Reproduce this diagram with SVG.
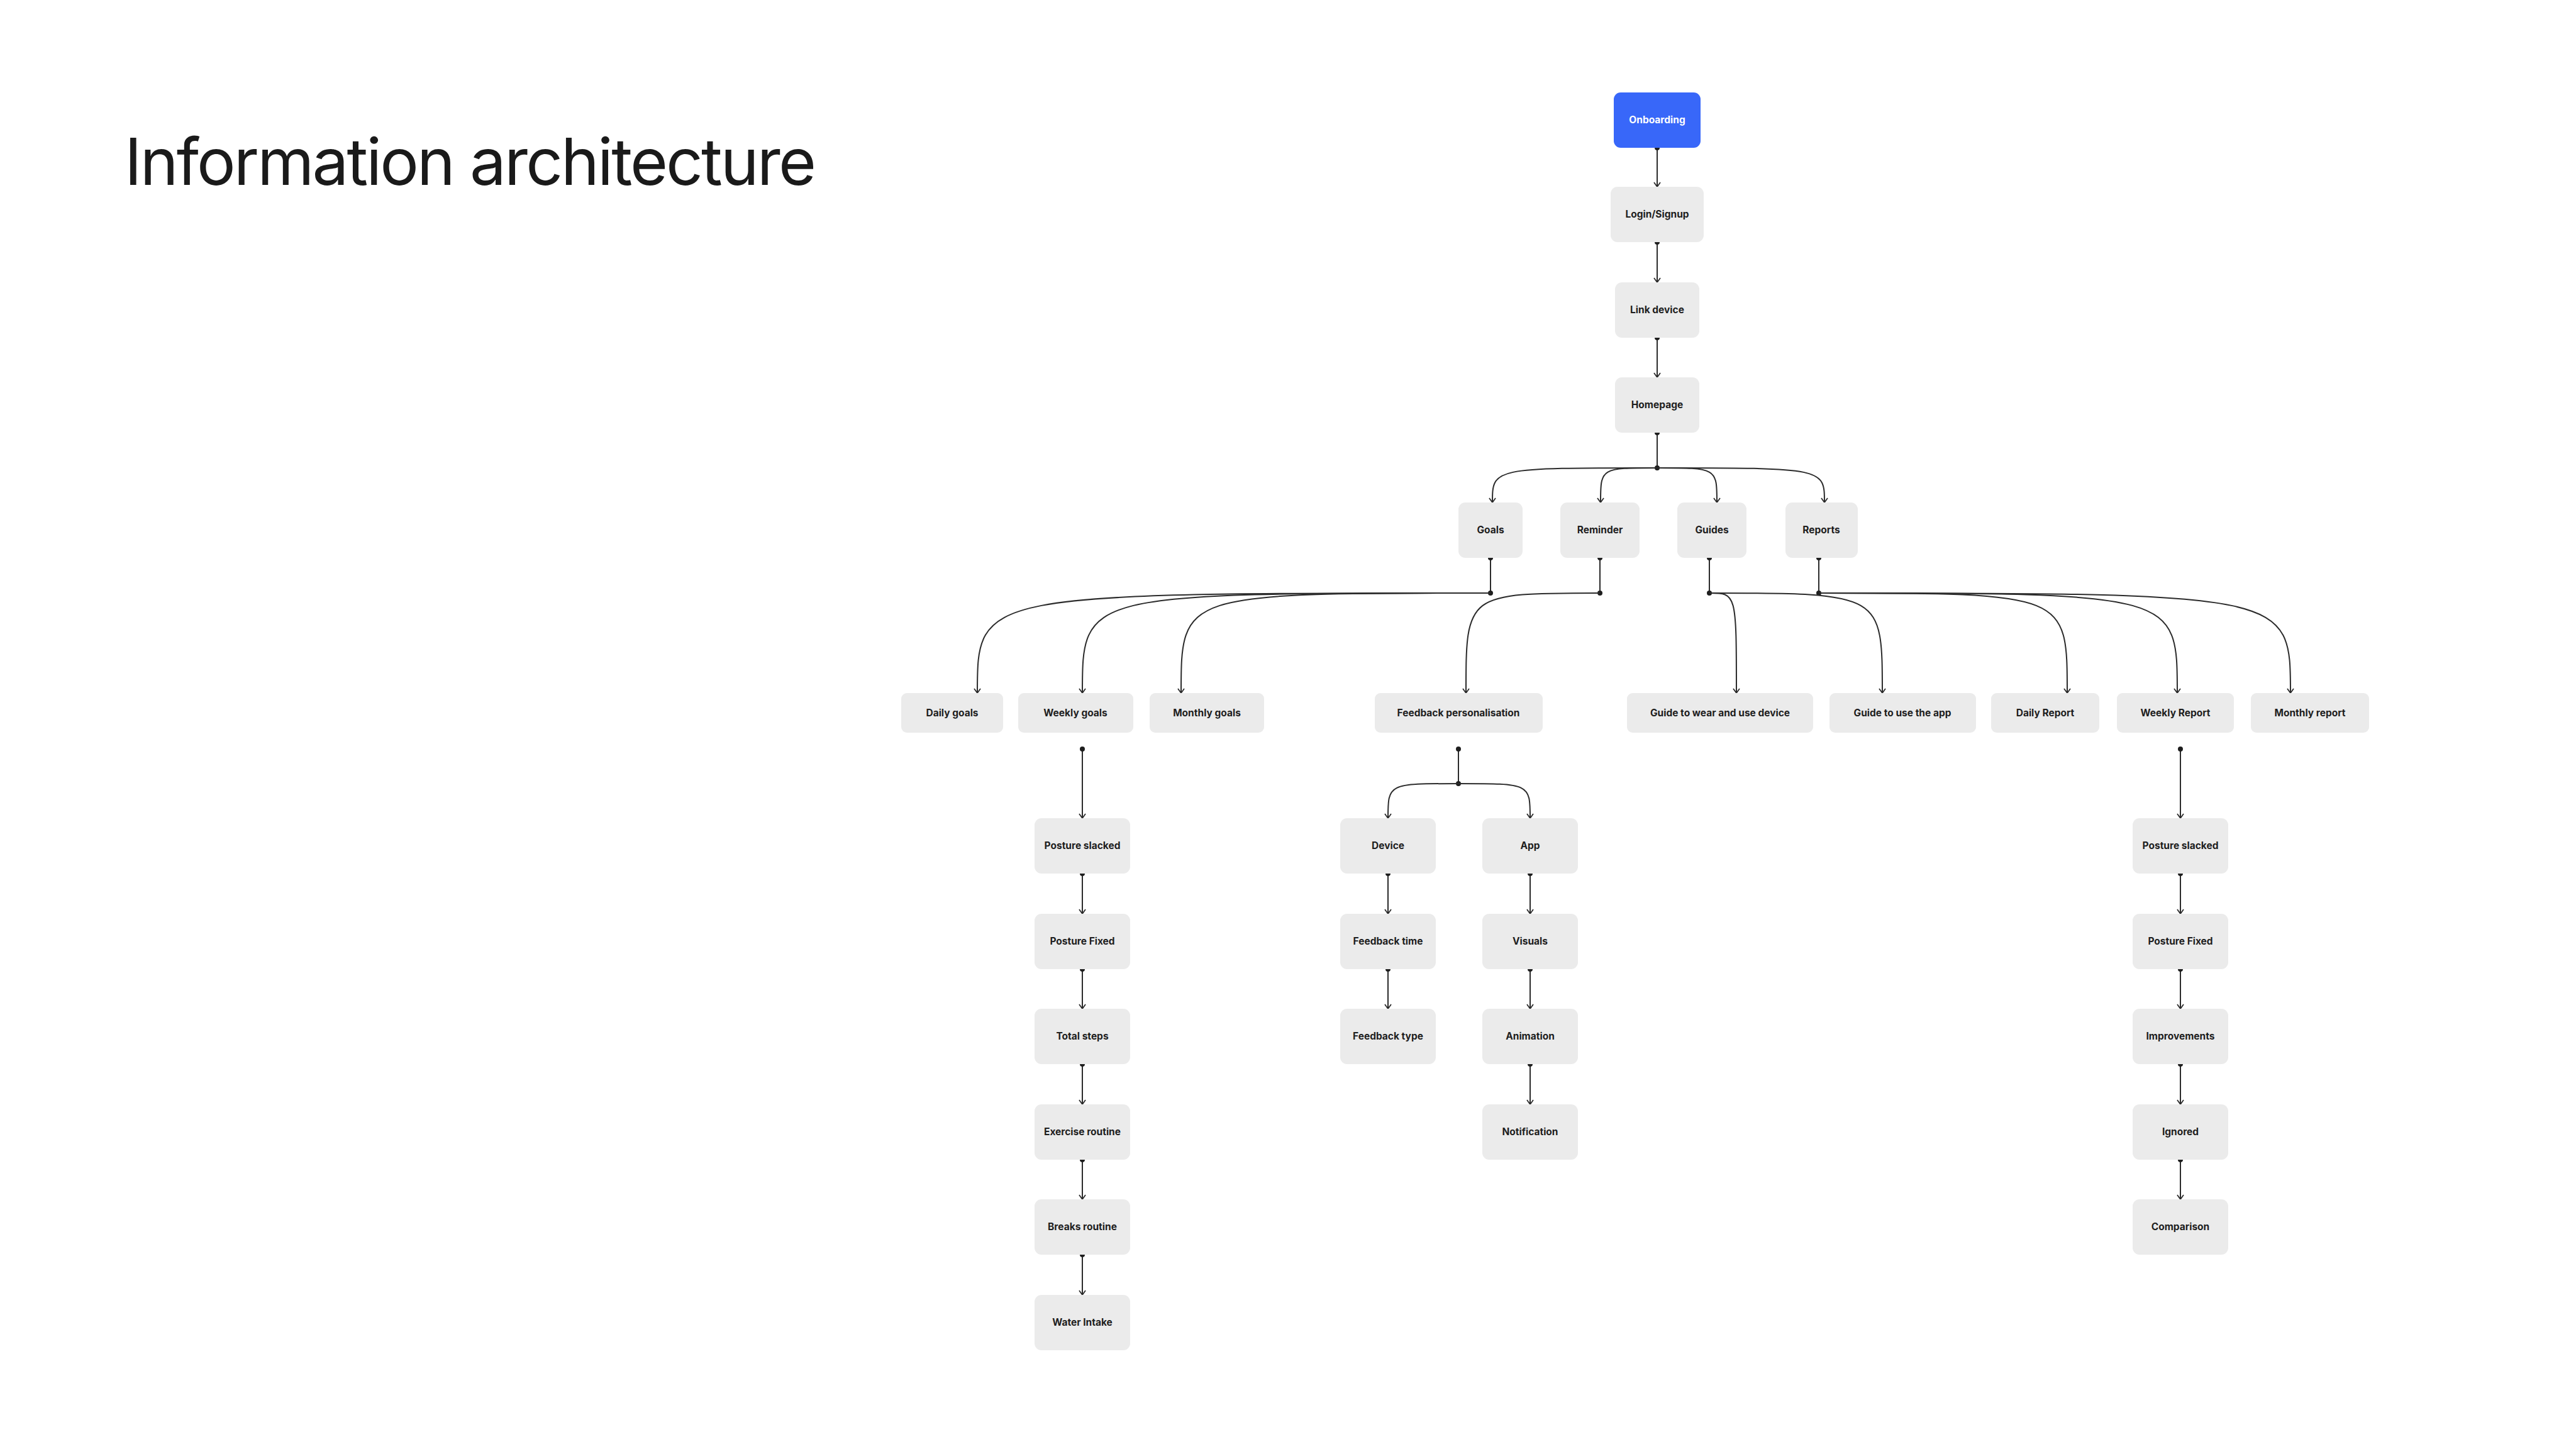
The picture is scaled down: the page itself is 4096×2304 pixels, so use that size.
<svg xmlns="http://www.w3.org/2000/svg" width="4096" height="2304" viewBox="0 0 4096 2304">
<style>
.bg{fill:#ffffff}
.node rect{fill:#ebebeb}
.node text{font-family:Inter,"Liberation Sans",sans-serif;font-weight:700;font-size:15.5px;fill:#1e1e1e;text-anchor:middle}
#onboarding rect{fill:#3867f9}
#onboarding text{fill:#ffffff}
.title{font-family:Inter,"Liberation Sans",sans-serif;font-weight:400;font-size:103px;fill:#1a1a1a}
.c{fill:none;stroke:#2b2b2b;stroke-width:2}
.a{marker-end:url(#arrow)}
.s{marker-start:url(#dot)}
.e{marker-end:url(#dot)}
</style>
<defs>
<marker id="arrow" viewBox="-9 -7 11 14" markerWidth="11" markerHeight="14" refX="0" refY="0" orient="auto" markerUnits="userSpaceOnUse">
<path d="M-7,-5 L0,0 L-7,5" fill="none" stroke="#2b2b2b" stroke-width="1.8"/>
</marker>
<marker id="dot" viewBox="-5 -5 10 10" markerWidth="10" markerHeight="10" refX="0" refY="0" orient="auto" markerUnits="userSpaceOnUse">
<circle cx="0" cy="0" r="4" fill="#1e1e1e"/>
</marker>
</defs>
<rect class="bg" x="0" y="0" width="4096" height="2304"/>
<text class="title" x="198" y="294" textLength="1100" lengthAdjust="spacing">Information architecture</text>

<g id="connectors">
<path class="c s a" d="M2635,235 L2635,297"/>
<path class="c s a" d="M2635,385 L2635,449"/>
<path class="c s a" d="M2635,537 L2635,600"/>
<path class="c s e" d="M2635,688 L2635,744"/>
<path class="c a" d="M2635,744 C2373,744 2373,744 2373,799"/>
<path class="c a" d="M2635,744 C2545,744 2545,744 2545,799"/>
<path class="c a" d="M2635,744 C2730,744 2730,744 2730,799"/>
<path class="c a" d="M2635,744 C2901,744 2901,744 2901,799"/>
<path class="c s e" d="M2370,887 L2370,943"/>
<path class="c s e" d="M2544,887 L2544,943"/>
<path class="c s e" d="M2718,887 L2718,943"/>
<path class="c s e" d="M2892,887 L2892,943"/>
<path class="c a" d="M2370,943 C1554,943 1554,943 1554,1102"/>
<path class="c a" d="M2370,943 C1721,943 1721,943 1721,1102"/>
<path class="c a" d="M2370,943 C1878,943 1878,943 1878,1102"/>
<path class="c a" d="M2544,943 C2331,943 2331,943 2331,1102"/>
<path class="c a" d="M2718,943 C2761,943 2761,943 2761,1102"/>
<path class="c a" d="M2718,943 C2993,943 2993,943 2993,1102"/>
<path class="c a" d="M2892,943 C3287,943 3287,943 3287,1102"/>
<path class="c a" d="M2892,943 C3462,943 3462,943 3462,1102"/>
<path class="c a" d="M2892,943 C3642,943 3642,943 3642,1102"/>
<path class="c s a" d="M1721,1191 L1721,1301"/>
<path class="c s e" d="M2319,1191 L2319,1246"/>
<path class="c a" d="M2319,1246 C2207,1246 2207,1246 2207,1301"/>
<path class="c a" d="M2319,1246 C2433,1246 2433,1246 2433,1301"/>
<path class="c s a" d="M3467,1191 L3467,1301"/>
<path class="c s a" d="M1721,1389 L1721,1453"/>
<path class="c s a" d="M1721,1541 L1721,1604"/>
<path class="c s a" d="M1721,1692 L1721,1756"/>
<path class="c s a" d="M1721,1844 L1721,1907"/>
<path class="c s a" d="M1721,1995 L1721,2059"/>
<path class="c s a" d="M2207,1389 L2207,1453"/>
<path class="c s a" d="M2207,1541 L2207,1604"/>
<path class="c s a" d="M2433,1389 L2433,1453"/>
<path class="c s a" d="M2433,1541 L2433,1604"/>
<path class="c s a" d="M2433,1692 L2433,1756"/>
<path class="c s a" d="M3467,1389 L3467,1453"/>
<path class="c s a" d="M3467,1541 L3467,1604"/>
<path class="c s a" d="M3467,1692 L3467,1756"/>
<path class="c s a" d="M3467,1844 L3467,1907"/>
</g>

<g id="onboarding" class="node"><rect x="2566" y="147" width="138" height="88" rx="11"/><text x="2635" y="196">Onboarding</text></g>
<g id="login" class="node"><rect x="2561" y="297" width="148" height="88" rx="11"/><text x="2635" y="346">Login/Signup</text></g>
<g id="link-device" class="node"><rect x="2568" y="449" width="134" height="88" rx="11"/><text x="2635" y="498">Link device</text></g>
<g id="homepage" class="node"><rect x="2568" y="600" width="134" height="88" rx="11"/><text x="2635" y="649">Homepage</text></g>

<g id="goals" class="node"><rect x="2319" y="799" width="102" height="88" rx="11"/><text x="2370" y="848">Goals</text></g>
<g id="reminder" class="node"><rect x="2481" y="799" width="126" height="88" rx="11"/><text x="2544" y="848">Reminder</text></g>
<g id="guides" class="node"><rect x="2667" y="799" width="110" height="88" rx="11"/><text x="2722" y="848">Guides</text></g>
<g id="reports" class="node"><rect x="2839" y="799" width="115" height="88" rx="11"/><text x="2896" y="848">Reports</text></g>

<g id="daily-goals" class="node"><rect x="1433" y="1102" width="162" height="63" rx="9"/><text x="1514" y="1139">Daily goals</text></g>
<g id="weekly-goals" class="node"><rect x="1619" y="1102" width="183" height="63" rx="9"/><text x="1710" y="1139">Weekly goals</text></g>
<g id="monthly-goals" class="node"><rect x="1828" y="1102" width="182" height="63" rx="9"/><text x="1919" y="1139">Monthly goals</text></g>
<g id="feedback-personalisation" class="node"><rect x="2186" y="1102" width="267" height="63" rx="9"/><text x="2319" y="1139">Feedback personalisation</text></g>
<g id="guide-wear" class="node"><rect x="2587" y="1102" width="296" height="63" rx="9"/><text x="2735" y="1139">Guide to wear and use device</text></g>
<g id="guide-app" class="node"><rect x="2909" y="1102" width="233" height="63" rx="9"/><text x="3025" y="1139">Guide to use the app</text></g>
<g id="daily-report" class="node"><rect x="3166" y="1102" width="172" height="63" rx="9"/><text x="3252" y="1139">Daily Report</text></g>
<g id="weekly-report" class="node"><rect x="3366" y="1102" width="186" height="63" rx="9"/><text x="3459" y="1139">Weekly Report</text></g>
<g id="monthly-report" class="node"><rect x="3579" y="1102" width="188" height="63" rx="9"/><text x="3673" y="1139">Monthly report</text></g>

<g id="wg-posture-slacked" class="node"><rect x="1645" y="1301" width="152" height="88" rx="11"/><text x="1721" y="1350">Posture slacked</text></g>
<g id="wg-posture-fixed" class="node"><rect x="1645" y="1453" width="152" height="88" rx="11"/><text x="1721" y="1502">Posture Fixed</text></g>
<g id="total-steps" class="node"><rect x="1645" y="1604" width="152" height="88" rx="11"/><text x="1721" y="1653">Total steps</text></g>
<g id="exercise-routine" class="node"><rect x="1645" y="1756" width="152" height="88" rx="11"/><text x="1721" y="1805">Exercise routine</text></g>
<g id="breaks-routine" class="node"><rect x="1645" y="1907" width="152" height="88" rx="11"/><text x="1721" y="1956">Breaks routine</text></g>
<g id="water-intake" class="node"><rect x="1645" y="2059" width="152" height="88" rx="11"/><text x="1721" y="2108">Water Intake</text></g>

<g id="device" class="node"><rect x="2131" y="1301" width="152" height="88" rx="11"/><text x="2207" y="1350">Device</text></g>
<g id="feedback-time" class="node"><rect x="2131" y="1453" width="152" height="88" rx="11"/><text x="2207" y="1502">Feedback time</text></g>
<g id="feedback-type" class="node"><rect x="2131" y="1604" width="152" height="88" rx="11"/><text x="2207" y="1653">Feedback type</text></g>

<g id="app" class="node"><rect x="2357" y="1301" width="152" height="88" rx="11"/><text x="2433" y="1350">App</text></g>
<g id="visuals" class="node"><rect x="2357" y="1453" width="152" height="88" rx="11"/><text x="2433" y="1502">Visuals</text></g>
<g id="animation" class="node"><rect x="2357" y="1604" width="152" height="88" rx="11"/><text x="2433" y="1653">Animation</text></g>
<g id="notification" class="node"><rect x="2357" y="1756" width="152" height="88" rx="11"/><text x="2433" y="1805">Notification</text></g>

<g id="wr-posture-slacked" class="node"><rect x="3391" y="1301" width="152" height="88" rx="11"/><text x="3467" y="1350">Posture slacked</text></g>
<g id="wr-posture-fixed" class="node"><rect x="3391" y="1453" width="152" height="88" rx="11"/><text x="3467" y="1502">Posture Fixed</text></g>
<g id="improvements" class="node"><rect x="3391" y="1604" width="152" height="88" rx="11"/><text x="3467" y="1653">Improvements</text></g>
<g id="ignored" class="node"><rect x="3391" y="1756" width="152" height="88" rx="11"/><text x="3467" y="1805">Ignored</text></g>
<g id="comparison" class="node"><rect x="3391" y="1907" width="152" height="88" rx="11"/><text x="3467" y="1956">Comparison</text></g>
</svg>
